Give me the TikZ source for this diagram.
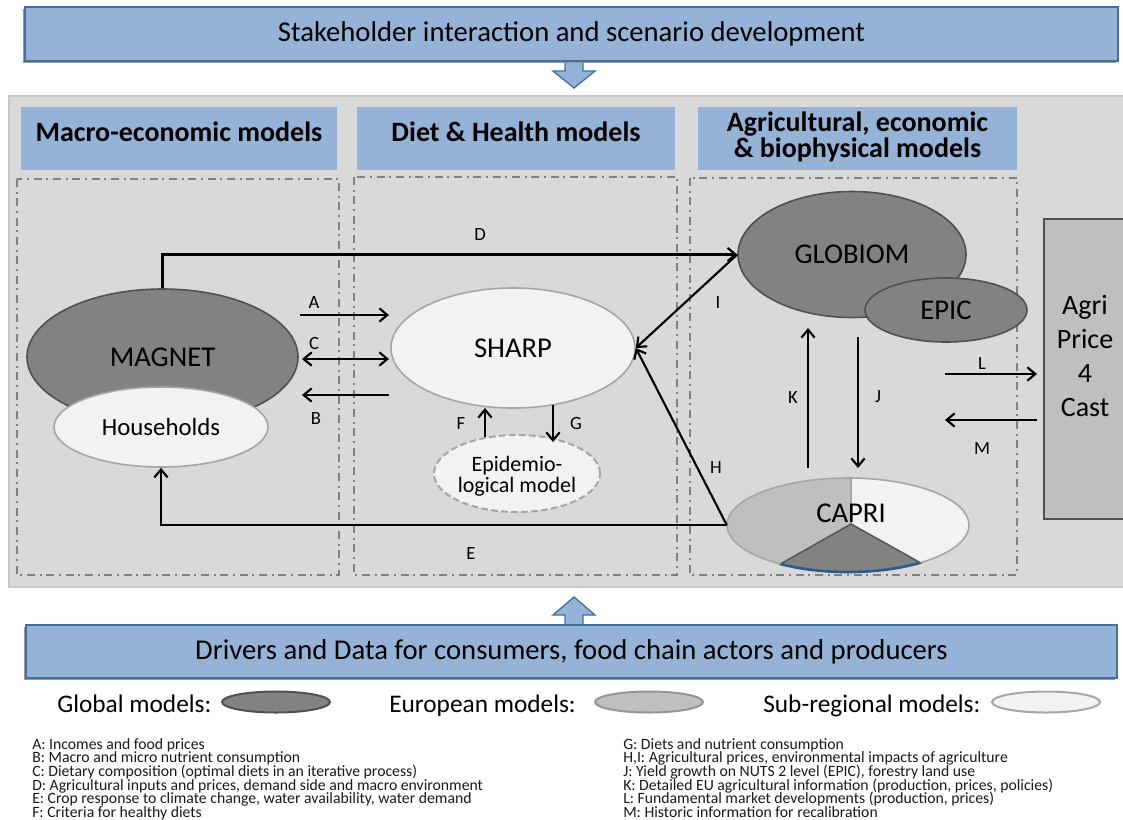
\documentclass[tikz,border=0pt]{standalone}
\usepackage{fontspec}
\setmainfont{Carlito}
\usetikzlibrary{arrows.meta,shapes.geometric,calc}
\definecolor{bfill}{HTML}{95B3D7}
\definecolor{bdraw}{HTML}{41719C}
\definecolor{panel}{HTML}{D9D9D9}
\definecolor{gdark}{HTML}{828282}
\definecolor{gdarkline}{HTML}{505050}
\definecolor{gmid}{HTML}{BFBFBF}
\definecolor{gmidline}{HTML}{959595}
\definecolor{glight}{HTML}{F2F2F2}
\definecolor{glightline}{HTML}{A6A6A6}
\definecolor{dashgray}{HTML}{808080}
\definecolor{capriblue}{HTML}{2E5C8A}
\newcommand\tightlines{\lineskiplimit=-\maxdimen}
\tikzset{
  banner/.style={rectangle, fill=bfill, draw=bdraw, line width=1.5pt, inner sep=0pt, font=\fontsize{21.5}{24}\selectfont},
  blockarrow/.style={fill=bfill, draw=bdraw, line width=1pt, line join=miter},
  hdrbox/.style={rectangle, fill=bfill, inner sep=0pt, anchor=north west},
  hdrtext/.style={font=\bfseries\fontsize{21}{19.5}\selectfont\tightlines, align=center, inner sep=0pt},
  grpbox/.style={draw=dashgray, line width=1.6pt, dash pattern=on 6pt off 3.5pt on 1.5pt off 3.5pt},
  globalm/.style={ellipse, fill=gdark, draw=gdarkline, line width=1.2pt, inner sep=0pt},
  europem/.style={ellipse, fill=gmid, draw=gmidline, line width=1.2pt, inner sep=0pt},
  subm/.style={ellipse, fill=glight, draw=glightline, line width=1.2pt, inner sep=0pt},
  epim/.style={ellipse, fill=glight, draw=glightline, line width=1.5pt, dash pattern=on 5pt off 2.5pt, inner sep=0pt},
  mtext/.style={font=\fontsize{21.5}{24}\selectfont},
  conn/.style={line width=1.6pt, -{Straight Barb[length=6pt,width=10pt]}},
  conntwo/.style={line width=1.6pt, {Straight Barb[length=6pt,width=10pt]}-{Straight Barb[length=6pt,width=10pt]}},
  lbl/.style={font=\fontsize{14}{16}\selectfont, inner sep=0pt},
  legtext/.style={font=\fontsize{19}{22}\selectfont, inner sep=0pt, anchor=base west},
  listtext/.style={font=\fontsize{11.8}{10.2}\selectfont\tightlines, align=left, inner sep=0pt, anchor=north west, text=black!90},
}
\begin{document}
\begin{tikzpicture}[x=0.75pt,y=-0.75pt]
\useasboundingbox (0,0) rectangle (1123,819);
\clip (0,0) rectangle (1123,819);
\fill[white] (0,0) rectangle (1123,819);

% top banner and arrow
\draw[blockarrow] (565,58) -- (583,58) -- (583,71) -- (595,71) -- (574,88) -- (553,71) -- (565,71) -- cycle;
\fill[black!40] (23,9) rectangle (1116,63);
\node[banner, minimum width=819.75pt, minimum height=40.5pt] (stake) at (571.5,34) {Stakeholder interaction and scenario development};

% grey panel
\fill[panel] (9,96) rectangle (1130,587);
\draw[black!22, line width=0.8pt] (1130,96) -- (9,96) -- (9,587) -- (1130,587);

% headers
\node[hdrbox, minimum width=237pt, minimum height=47.25pt] (hmacro) at (21,107) {};
\node[hdrbox, minimum width=238.5pt, minimum height=47.25pt] (hdiet) at (357,107) {};
\node[hdrbox, minimum width=239.25pt, minimum height=47.25pt] (hagri) at (698,107) {};
\node[hdrtext] (tmacro) at (179,132) {Macro-economic models};
\node[hdrtext] (tdiet) at (516,132) {Diet \& Health models};
\node[hdrtext] (tagri) at (857.5,137) {Agricultural, economic\\\& biophysical models};

% group boxes
\draw[grpbox] (17,179) rectangle (339,575);
\draw[grpbox] (354,177) rectangle (677,575);
\draw[grpbox] (690,178) rectangle (1017,575);

% models
\node[globalm, minimum width=203.25pt, minimum height=102pt, mtext] (magnet) at (162.5,357) {MAGNET};
\node[subm, minimum width=160.5pt, minimum height=60pt, font=\fontsize{18.6}{20}\selectfont] (house) at (161,427) {Households};
\node[subm, minimum width=183pt, minimum height=90pt, mtext] (sharp) at (513,348) {SHARP};
\node[epim, minimum width=124.5pt, minimum height=57.75pt] (epi) at (517,473.5) {};
\node[font=\fontsize{16.5}{16}\selectfont\tightlines, align=center, inner sep=0pt] (epitext) at (517,476) {Epidemio-\\logical model};
\node[globalm, minimum width=171pt, minimum height=94.5pt, mtext] (globiom) at (852,254.5) {GLOBIOM};
\node[globalm, minimum width=121.5pt, minimum height=48pt, mtext] (epic) at (946,310) {EPIC};

% CAPRI
\node[ellipse, minimum width=181.5pt, minimum height=70.5pt, inner sep=0pt] (capri) at (848,525) {};
\begin{scope}
\clip (848,525) ellipse [x radius=90.75pt, y radius=35.25pt];
\fill[glight] (700,470) rectangle (1000,580);
\fill[gmid] (851,524) -- (851,440) -- (640,440) -- (640,644) -- cycle;
\fill[gdark] (851,524) -- (650,638) -- (1055,638) -- cycle;
\draw[glightline, line width=0.8pt] (851,524) -- (851,440);
\draw[black!65, line width=1.2pt] (650,638) -- (851,524) -- (1055,638);
\end{scope}
\draw[glightline, line width=1.2pt] (848,525) ellipse [x radius=90.75pt, y radius=35.25pt];
\begin{scope}
\clip (851,524) -- (650,638) -- (1055,638) -- cycle;
\draw[capriblue, line width=2pt] (848,525) ellipse [x radius=90.75pt, y radius=35.25pt];
\end{scope}
\node[mtext, inner sep=0pt] (capritext) at (851,513) {CAPRI};

% Agri Price 4 Cast
\node[rectangle, fill=gmid, draw=gdarkline, line width=1.5pt, anchor=north west, minimum width=75pt, minimum height=225pt, inner sep=0pt] (agri) at (1043,218) {};
\node[font=\fontsize{21}{25.5}\selectfont, align=center, inner sep=0pt] (agritext) at (1085,356) {Agri\\Price\\4\\Cast};

% connectors
\draw[conn] (magnet.north) |- (globiom.west);
\draw[conn] (capri.west) -| (house.south);
\draw[conn] (capri.west) -- (sharp.east);
\draw[conn] (globiom.west) -- (sharp.east);

\coordinate (a1) at (300,315); \coordinate (a2) at (389,315);
\coordinate (c1) at (302,359); \coordinate (c2) at (389,359);
\coordinate (b1) at (389,395); \coordinate (b2) at (302,395);
\coordinate (f1) at (485,437); \coordinate (f2) at (485,408);
\coordinate (g1) at (553,405); \coordinate (g2) at (553,442);
\coordinate (k1) at (808,468); \coordinate (k2) at (808,328);
\coordinate (j1) at (858,337); \coordinate (j2) at (858,468);
\coordinate (l1) at (945,374); \coordinate (l2) at (1037,374);
\coordinate (m1) at (1037,420); \coordinate (m2) at (945,420);
\draw[conn] (a1) -- (a2);
\draw[conntwo] (c1) -- (c2);
\draw[conn] (b1) -- (b2);
\draw[conn] (f1) -- (f2);
\draw[conn] (g1) -- (g2);
\draw[conn] (k1) -- (k2);
\draw[conn] (j1) -- (j2);
\draw[conn] (l1) -- (l2);
\draw[conn] (m1) -- (m2);

% labels
\node[lbl] (la) at (314,303) {A};
\node[lbl] (lc) at (314,343) {C};
\node[lbl] (lb) at (316,418) {B};
\node[lbl] (ld) at (480,235) {D};
\node[lbl] (le) at (471,553) {E};
\node[lbl] (lf) at (461,423) {F};
\node[lbl] (lgg) at (576,423) {G};
\node[lbl] (lh) at (716,467) {H};
\node[lbl] (li) at (718,303) {I};
\node[lbl] (lk) at (793,397) {K};
\node[lbl] (lj) at (878,397) {J};
\node[lbl] (ll) at (982,363) {L};
\node[lbl] (lm) at (982,448) {M};

% bottom banner and arrow
\draw[blockarrow] (565,628) -- (565,615) -- (553,615) -- (574,597) -- (595,615) -- (583,615) -- (583,628) -- cycle;
\fill[black!40] (24,627) rectangle (1115,680);
\node[banner, minimum width=818.25pt, minimum height=39.75pt] (drivers) at (571.5,651.5) {Drivers and Data for consumers, food chain actors and producers};

% legend
\node[legtext] (tglob) at (57,712) {Global models:};
\node[globalm, minimum width=81pt, minimum height=15.75pt, line width=1.5pt] (lglob) at (276,702) {};
\node[legtext] (teuro) at (389,712) {European models:};
\node[europem, minimum width=81pt, minimum height=15.75pt, line width=1.5pt] (leuro) at (649,702) {};
\node[legtext] (tsub) at (763,712) {Sub-regional models:};
\node[subm, minimum width=81pt, minimum height=15.75pt, line width=1.5pt] (lsub) at (1046,702) {};

% key lists
\node[listtext] (listl) at (32,738) {A: Incomes and food prices\\B: Macro and micro nutrient consumption\\C: Dietary composition (optimal diets in an iterative process)\\D: Agricultural inputs and prices, demand side and macro environment\\E: Crop response to climate change, water availability, water demand\\F: Criteria for healthy diets};
\node[listtext] (listr) at (623,738) {G: Diets and nutrient consumption\\H,I: Agricultural prices, environmental impacts of agriculture\\J: Yield growth on NUTS 2 level (EPIC), forestry land use\\K: Detailed EU agricultural information (production, prices, policies)\\L: Fundamental market developments (production, prices)\\M: Historic information for recalibration};
\end{tikzpicture}
\end{document}
